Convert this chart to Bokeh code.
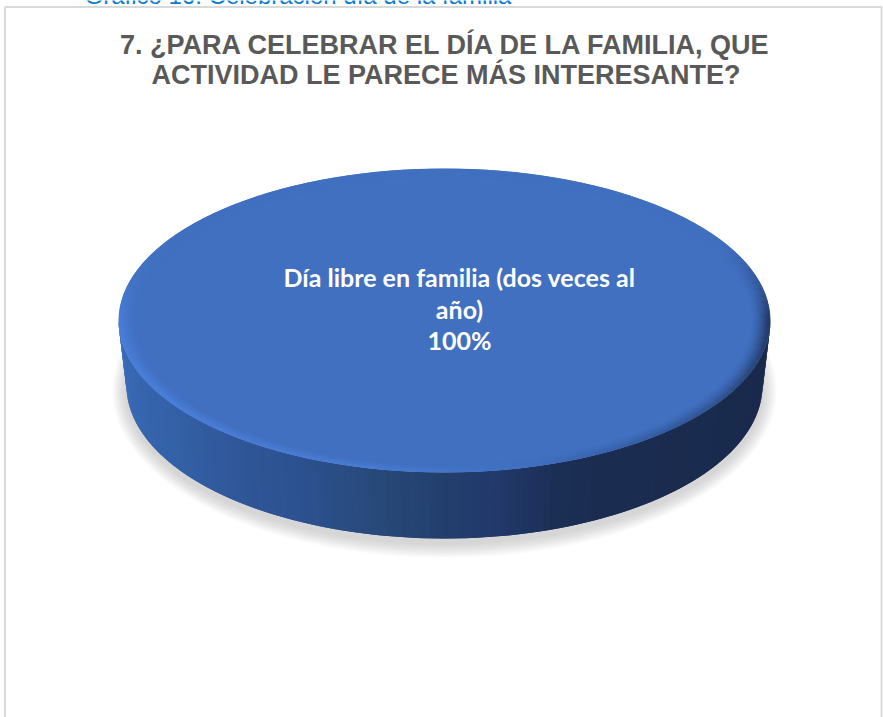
import numpy as np
from bokeh.core.properties import value
from bokeh.embed import file_html
from bokeh.models import ColumnDataSource, Range1d
from bokeh.plotting import figure
from bokeh.resources import INLINE

# --- data ---
categories = ["Día libre en familia (dos veces al año)"]
values = [100]
label_lines = ["Día libre en familia (dos veces al", "año)"]
title_lines = ["7. ¿PARA CELEBRAR EL DÍA DE LA FAMILIA, QUE",
               "ACTIVIDAD LE PARECE MÁS INTERESANTE?"]
caption = "Gráfico 16: Celebración día de la familia"

W, H = 883, 717
CX, CY, RX, RY = 444.0, 320.0, 326.0, 152.0
BCY, BRX, BRY = 385.0, 318.0, 153.0


def rgb(h):
    return np.array([int(h[i:i + 2], 16) for i in (1, 3, 5)], float)


def hexc(c):
    return "#%02x%02x%02x" % tuple(int(round(max(0, min(255, v)))) for v in c)


def ramp(pos, keys, cols):
    arr = np.array([rgb(c) for c in cols])
    return np.array([np.interp(pos, keys, arr[:, i]) for i in range(3)])


p = figure(width=W, height=H, x_range=Range1d(0, W), y_range=Range1d(H, 0),
           x_axis_type=None, y_axis_type=None, toolbar_location=None,
           output_backend="svg", min_border=0, outline_line_color=None,
           background_fill_color="white", border_fill_color="white")
p.grid.visible = False

# frame of the chart area
p.quad(left=[4.5], right=[881.0], top=[6.5], bottom=[740], fill_color=None,
       line_color="#d9d9d9", line_width=2)

# cropped caption at the very top of the page
p.text(x=[84], y=[-5], text=[caption], text_color="#0a7bd2", text_font_size="24px",
       text_font=value("Liberation Sans"), text_baseline="alphabetic", text_align="left")

# title
for ty, line in zip([44, 74], title_lines):
    p.text(x=[445.5], y=[ty], text=[line], text_color="#595959", text_font_size="27px",
           text_font=value("Liberation Sans"), text_font_style="bold",
           text_align="center", text_baseline="alphabetic")

total = sum(values)
sweep = 2 * np.pi * values[0] / total

# soft shadow under the disc
for k in range(9):
    th = np.linspace(0, sweep, 181)
    grow = 14 - k * 1.6
    p.patch(CX + (BRX + grow) * np.cos(th), BCY + 5 + (BRY + grow) * np.sin(th),
            fill_color="#808080", fill_alpha=0.045, line_color=None)

# side wall: slices shaded along x, each overlapping the next to hide seams
n_side = 140
ang = np.linspace(0, sweep / 2, n_side + 1)
step = ang[1] - ang[0]
xs, ys, cols = [], [], []
side_keys = [118, 135, 200, 250, 300, 380, 440, 500, 560, 620, 771]
side_cols = ["#3a6cb8", "#3666af", "#325ca0", "#2f5596", "#2c5190", "#274878",
             "#233f6e", "#21386a", "#1b2e53", "#1a2c50", "#192a4c"]
for a0 in ang[:-1]:
    a1 = min(a0 + 2 * step, sweep / 2)
    xs.append([CX + RX * np.cos(a0), CX + RX * np.cos(a1), CX + BRX * np.cos(a1), CX + BRX * np.cos(a0)])
    ys.append([CY + RY * np.sin(a0), CY + RY * np.sin(a1), BCY + BRY * np.sin(a1), BCY + BRY * np.sin(a0)])
    cols.append(hexc(ramp(CX + RX * np.cos(a0 + step / 2), side_keys, side_cols)))
p.patches(xs="xs", ys="ys", fill_color="c", line_color=None,
          source=ColumnDataSource(dict(xs=xs, ys=ys, c=cols)))

# bevel: rings of the top face, coloured by angle, painted outer to inner
BASE = "#4170c0"
edge_keys = [0, 30, 60, 75, 90, 105, 150, 180, 195, 215, 330, 350, 360]
edge_cols = ["#1a2c50", "#2c4a84", "#3560a8", BASE, "#4578cc", "#4a7ed8", "#4c82e0",
             "#4a7fdc", "#4474c6", BASE, BASE, "#2c4a84", "#1a2c50"]
n_ang, n_ring = 144, 10
fr = np.linspace(1.0, 0.94, n_ring + 1)
ang = np.linspace(0, sweep, n_ang + 1)
step = ang[1] - ang[0]
xs, ys, cols = [], [], []
base = rgb(BASE)
for k in range(n_ring):
    t = (k + 0.5) / n_ring
    w = (1 - t) ** 1.5 * min(1.0, 0.7 + t * 3)
    for a0 in ang[:-1]:
        a1 = a0 + 2 * step
        f0, f1 = fr[k], 0.9
        xs.append([CX + RX * f0 * np.cos(a0), CX + RX * f0 * np.cos(a1), CX + RX * f1 * np.cos(a1), CX + RX * f1 * np.cos(a0)])
        ys.append([CY + RY * f0 * np.sin(a0), CY + RY * f0 * np.sin(a1), CY + RY * f1 * np.sin(a1), CY + RY * f1 * np.sin(a0)])
        e = ramp(np.degrees(a0 + step / 2), edge_keys, edge_cols)
        cols.append(hexc(base + (e - base) * w))
p.patches(xs="xs", ys="ys", fill_color="c", line_color=None,
          source=ColumnDataSource(dict(xs=xs, ys=ys, c=cols)))

# flat top face
th = np.linspace(0, sweep, 241)
p.patch(CX + RX * 0.942 * np.cos(th), CY + RY * 0.942 * np.sin(th), fill_color=BASE, line_color=None)

# data label
share = f"{values[0] / total * 100:.0f}%"
for ly, line in zip([276, 308, 339], label_lines + [share]):
    p.text(x=[459], y=[ly], text=[line], text_color="#ffffff", text_font_size="25px",
           text_font=value("Lato"), text_font_style="bold",
           text_align="center", text_baseline="alphabetic")

html = file_html(p, INLINE)
html = html.replace("<head>", "<head><style>html,body{margin:0;padding:0;overflow:hidden}</style>", 1)
open("out.html", "w").write(html)
